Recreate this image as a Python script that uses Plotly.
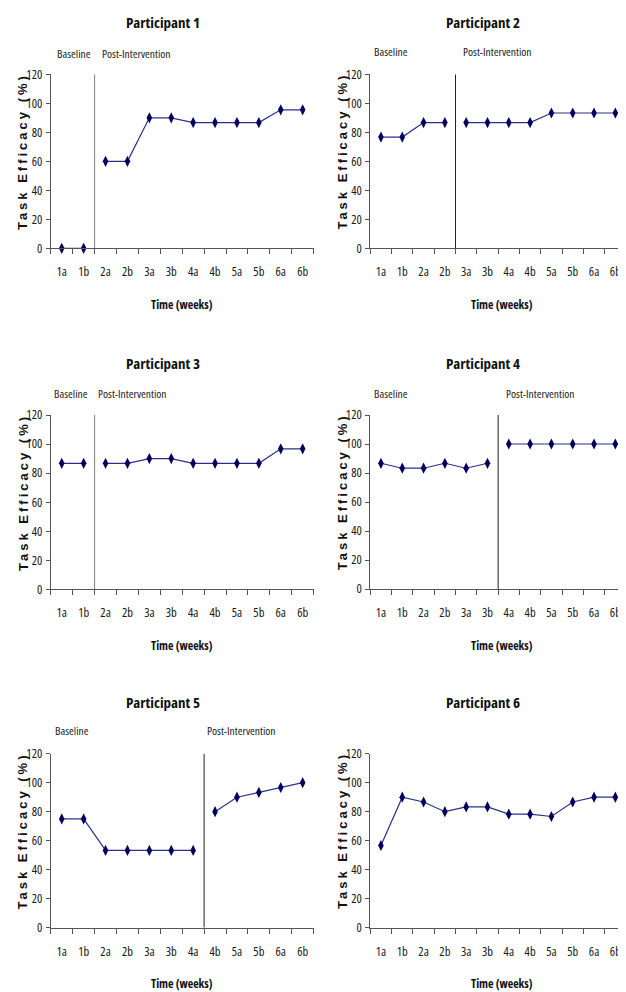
import plotly.graph_objects as go

weeks = ["1a", "1b", "2a", "2b", "3a", "3b", "4a", "4b", "5a", "5b", "6a", "6b"]

p1 = [0, 0, 60, 60, 90, 90, 86.7, 86.7, 86.7, 86.7, 95.5, 95.5]
p2 = [76.7, 76.7, 86.7, 86.7, 86.7, 86.7, 86.7, 86.7, 93.3, 93.3, 93.3, 93.3]
p3 = [86.7, 86.7, 86.7, 86.7, 90, 90, 86.7, 86.7, 86.7, 86.7, 96.7, 96.7]
p4 = [86.7, 83.3, 83.3, 86.7, 83.3, 86.7, 100, 100, 100, 100, 100, 100]
p5 = [75, 75, 53.3, 53.3, 53.3, 53.3, 53.3, 80, 90, 93.3, 96.7, 100]
p6 = [56.7, 90, 86.7, 80, 83.3, 83.3, 78.3, 78.3, 76.7, 86.7, 90, 90]

series = [p1, p2, p3, p4, p5, p6]
baseline_len = [2, 4, 2, 6, 7, None]
titles = ["Participant 1", "Participant 2", "Participant 3",
          "Participant 4", "Participant 5", "Participant 6"]
y_ticks = [0, 20, 40, 60, 80, 100, 120]

OFF = 8                      # page body margin
W, H = 626 - OFF, 992 - OFF  # figure size so it ends at the window edge
FONT = "Liberation Sans, Arial, sans-serif"
OPEN = "Open Sans, Liberation Sans, sans-serif"
LINE_C = "#2e2e8a"
MARK_C = "#00005e"
AX_C = "#555555"
TXT_C = "#1a1a1a"


def sp(text, ls):
    return '<span style="letter-spacing:%spx">%s</span>' % (ls, text)


def cond(text, pct=75):
    return '<span style="font-stretch:%s%%">%s</span>' % (pct, text)


def px(x):
    return (x - OFF) / W


def py(y):
    return 1 - (y - OFF) / H


# panel geometry in window pixels: (x_left, x_right, y_top(120), y_bottom(0))
geo = [
    (50.8, 313.6, 74.3, 248.3),
    (370.3, 633.6, 74.3, 248.3),
    (50.8, 313.6, 415.0, 589.3),
    (370.3, 633.6, 415.0, 589.0),
    (50.8, 313.6, 753.7, 927.7),
    (370.3, 633.6, 753.7, 927.7),
]
phase_label_px = [
    (55, 100, 53), (372, 461, 52), (52, 96, 393), (372, 504, 393), (53, 205, 730), None
]
phase_line_col = ["#808080", "#222222", "#808080", "#222222", "#222222", None]

fig = go.Figure()
layout = dict(width=W, height=H, margin=dict(l=0, r=0, t=0, b=0, pad=0),
              template="none", paper_bgcolor="white", plot_bgcolor="white",
              showlegend=False)
annotations = []
shapes = []

for i in range(6):
    n = i + 1
    xa = "xaxis" if n == 1 else f"xaxis{n}"
    ya = "yaxis" if n == 1 else f"yaxis{n}"
    xr = "x" if n == 1 else f"x{n}"
    yr = "y" if n == 1 else f"y{n}"
    xl, xrgt, yt, yb = geo[i]
    d0 = px(xl)
    d1 = min(px(xrgt), 1.0)
    layout[xa] = dict(domain=[d0, d1], range=[-0.5, 11.5], type="category",
                      categoryorder="array", categoryarray=weeks,
                      tickmode="array", tickvals=weeks,
                      ticktext=[cond(w) for w in weeks],
                      tickson="boundaries", ticks="outside", ticklen=5, tickwidth=1,
                      tickcolor=AX_C, showline=True, linecolor=AX_C, linewidth=1,
                      showgrid=False, zeroline=False, anchor=yr, tickangle=0,
                      automargin=False, ticklabelstandoff=12,
                      tickfont=dict(family=OPEN, size=12.5, color=TXT_C),
                      fixedrange=True)
    layout[ya] = dict(domain=[py(yb), py(yt)], range=[0, 120],
                      tickmode="array", tickvals=y_ticks,
                      ticktext=[cond(v) for v in y_ticks],
                      ticks="outside", ticklen=4, tickwidth=1,
                      tickcolor=AX_C, showline=True, linecolor=AX_C, linewidth=1,
                      showgrid=False, zeroline=False, anchor=xr, automargin=False,
                      ticklabelstandoff=1,
                      tickfont=dict(family=OPEN, size=12.5, color=TXT_C),
                      fixedrange=True)

    vals = series[i]
    b = baseline_len[i]
    segs = [(0, len(vals))] if b is None else [(0, b), (b, len(vals))]
    for s, e in segs:
        fig.add_trace(go.Scatter(
            x=weeks[s:e], y=vals[s:e], mode="lines+markers",
            line=dict(color=LINE_C, width=1.2),
            marker=dict(symbol="diamond-tall", size=8, color=MARK_C),
            xaxis=xr, yaxis=yr, cliponaxis=False))

    if b is not None:
        shapes.append(dict(type="line", xref=xr, yref=yr, x0=b - 0.5, x1=b - 0.5,
                           y0=0, y1=120, line=dict(color=phase_line_col[i], width=1)))
        bx, px_, ly = phase_label_px[i]
        annotations.append(dict(text=cond("Baseline"), x=px(bx), y=py(ly),
                                xref="paper", yref="paper", xanchor="left",
                                yanchor="middle", showarrow=False,
                                font=dict(family=OPEN, size=11.5, color=TXT_C)))
        annotations.append(dict(text=cond("Post-Intervention"), x=px(px_),
                                y=py(ly), xref="paper", yref="paper",
                                xanchor="left", yanchor="middle", showarrow=False,
                                font=dict(family=OPEN, size=11.5, color=TXT_C)))

    cx = (xl + xrgt) / 2
    annotations.append(dict(text="<b>" + cond(titles[i]) + "</b>", x=px(cx - 19),
                            y=py(yt - 52), xref="paper", yref="paper",
                            xanchor="center", yanchor="middle", showarrow=False,
                            font=dict(family=OPEN, size=15, color="#111")))
    annotations.append(dict(text="<b>" + cond("Time (weeks)") + "</b>", x=px(cx),
                            y=py(yb + 56), xref="paper", yref="paper",
                            xanchor="center", yanchor="middle", showarrow=False,
                            font=dict(family=OPEN, size=12, color="#111")))
    annotations.append(dict(text="<b>" + sp("Task Efficacy (%)", 3.0) + "</b>",
                            x=px(xl - 28),
                            y=py((yt + yb) / 2 - 10), xref="paper", yref="paper",
                            xanchor="center", yanchor="middle", showarrow=False,
                            textangle=-90,
                            font=dict(family=FONT, size=13, color="#111")))

layout["annotations"] = annotations
layout["shapes"] = shapes
fig.update_layout(**layout)
fig.write_html("out.html")
